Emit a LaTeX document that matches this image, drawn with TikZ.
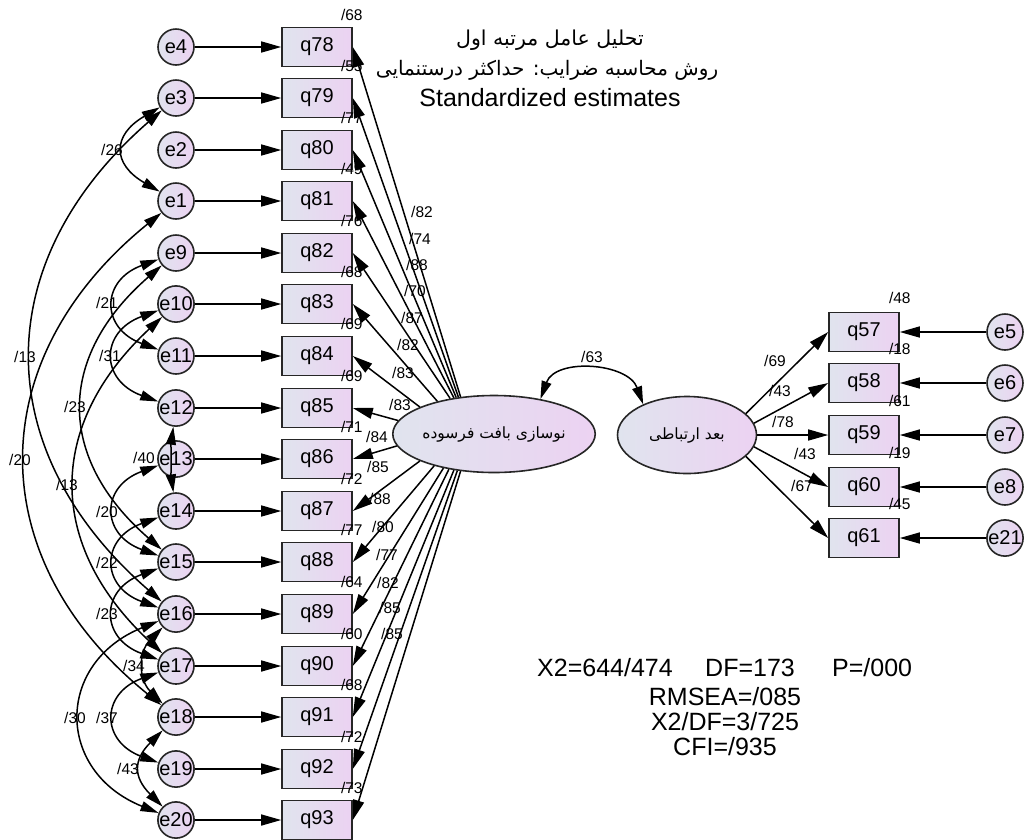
\documentclass[tikz,border=0pt]{standalone}
\usepackage{fontspec}
\setmainfont{Liberation Sans}
\newfontfamily\fa[Script=Arabic]{DejaVu Sans}
\TeXXeTstate=1
\usetikzlibrary{arrows.meta,shapes.geometric}
\definecolor{boxL}{RGB}{224,228,238}
\definecolor{boxR}{RGB}{236,210,242}
\begin{document}
\begin{tikzpicture}[x=1pt,y=1pt,
  box/.style={draw=black!85, line width=1.6pt, minimum width=70pt, minimum height=39pt, inner sep=0pt, left color=boxL, right color=boxR, font=\fontsize{20}{20}\selectfont},
  err/.style={circle, draw=black!85, line width=1.6pt, minimum size=36pt, inner sep=0pt, left color=boxL, right color=boxR, font=\fontsize{20}{20}\selectfont},
  lat/.style={ellipse, draw=black!85, line width=1.6pt, minimum width=139pt, minimum height=77pt, inner sep=0pt, left color=boxL, right color=boxR},
  pth/.style={line width=1.5pt, -{Triangle[length=20pt,width=11pt]}},
  cov/.style={line width=1.5pt, {Triangle[length=18pt,width=10pt]}-{Triangle[length=18pt,width=10pt]}},
  lbl/.style={font=\fontsize{15.5}{15.5}\selectfont, inner sep=0pt},
  big/.style={font=\fontsize{25}{25}\selectfont, inner sep=0pt},
]
\fill[white] (0,0) rectangle (1024,-839);
\useasboundingbox (0,0) rectangle (1024,-839);

% title
\node[big] (t1) at (550,-40) {\fa\fontsize{20.5}{20.5}\selectfont\beginR تحلیل عامل مرتبه اول\endR};
\node[big] (t2) at (547,-70) {\fa\fontsize{20}{20}\selectfont\beginR روش محاسبه ضرایب: حداکثر درستنمایی\endR};
\node[big] (t3) at (550,-98) {Standardized estimates};

% left indicators and errors
\foreach \e/\q/\y in {e4/q78/47,e3/q79/98,e2/q80/150,e1/q81/201,e9/q82/253,e10/q83/304,e11/q84/356,e12/q85/408,e13/q86/459,e14/q87/511,e15/q88/562,e16/q89/614,e17/q90/666,e18/q91/717,e19/q92/769,e20/q93/820}{
  \node[err] (\e) at (176,-\y) {\e};
  \node[box] (\q) at (317,-\y) {\q};
}
% right indicators and errors
\foreach \e/\q/\y in {e5/q57/332,e6/q58/383,e7/q59/435,e8/q60/487,e21/q61/538}{
  \node[err] (\e) at (1005,-\y) {\e};
  \node[box] (\q) at (864,-\y) {\q};
}
% latents
\node[lat] (L) at (494,-434) {\fa\fontsize{15.5}{15.5}\selectfont\beginR نوسازی بافت فرسوده\endR};
\node[lat] (R) at (687,-435) {\fa\fontsize{15.5}{15.5}\selectfont\beginR بعد ارتباطی\endR};

% R-square labels (left)
\foreach \q/\v in {q78/68,q79/55,q80/77,q81/49,q82/76,q83/68,q84/69,q85/69,q86/71,q87/72,q88/77,q89/64,q90/60,q91/68,q92/72,q93/73}{
  \node[lbl] (r\q) at ([shift={(-1,12)}]\q.north east) {/\v};
}
\foreach \q/\v in {q57/48,q58/18,q59/61,q60/19,q61/45}{
  \node[lbl] (r\q) at ([shift={(0,14)}]\q.north east) {/\v};
}

% loading labels (left)
\foreach \q/\v/\x/\y in {q78/82/422/212,q79/74/420/239,q80/88/417/265,q81/70/415/291,q82/87/412/318,q83/82/408/345,q84/83/403/373,q85/83/400/405,q86/84/377/437,q87/85/378/467,q88/88/380/499,q89/80/383/527,q90/77/387/555,q91/82/388/583,q92/85/390/608,q93/85/392/634}{
  \node[lbl] (l\q) at (\x,-\y) {/\v};
}
% loading labels (right)
\foreach \q/\v/\x/\y in {q57/69/775/361,q58/43/780/391,q59/78/783/422,q60/43/805/454,q61/67/802/486}{
  \node[lbl] (l\q) at (\x,-\y) {/\v};
}

% covariance labels
\foreach \v/\x/\y [count=\i] in {26/112/150,13/25/357,21/107/303,31/110/356,23/75/407,20/20/460,13/67/485,40/144/458,20/107/512,22/107/563,23/107/614,34/134/666,30/75/718,37/107/718,43/128/769,63/592/357}{
  \node[lbl] (c\i) at (\x,-\y) {/\v};
}

% fit statistics
\node[big, anchor=west] (s1) at (537,-668) {X2=644/474};
\node[big, anchor=west] (s2) at (705,-668) {DF=173};
\node[big, anchor=west] (s3) at (832,-668) {P=/000};
\node[big] (s4) at (725,-697) {RMSEA=/085};
\node[big] (s5) at (725,-722) {X2/DF=3/725};
\node[big] (s6) at (725,-747) {CFI=/935};

% error paths
\foreach \e/\q in {e4/q78,e3/q79,e2/q80,e1/q81,e9/q82,e10/q83,e11/q84,e12/q85,e13/q86,e14/q87,e15/q88,e16/q89,e17/q90,e18/q91,e19/q92,e20/q93,e5/q57,e6/q58,e7/q59,e8/q60,e21/q61}{
  \draw[pth] (\e) -- (\q);
}
% loadings
\foreach \q/\a in {q78/132,q79/134,q80/136,q81/138,q82/141,q83/150,q84/160,q85/172,q86/187,q87/200,q88/208,q89/214,q90/218,q91/222,q92/225,q93/228}{
  \draw[pth] (L.\a) -- (\q.east);
}
\foreach \q/\a in {q57/20,q58/10,q59/0,q60/-10,q61/-20}{
  \draw[pth] (R.\a) -- (\q.west);
}
% latent covariance
\draw[cov] (L.37) to[out=70,in=110,looseness=1.1] (R.145);

% error covariances
\draw[cov] (e3) to[out=210,in=150,looseness=1.68] (e1);
\foreach \a/\b in {e9/e11,e10/e12,e13/e15,e14/e16,e15/e17,e17/e19}{
  \draw[cov] (\a) to[out=200,in=160,looseness=1.75] (\b);
}
\draw[cov] (e16) to[out=225,in=135,looseness=1.16] (e18);
\draw[cov] (e18) to[out=225,in=135,looseness=1.4] (e20);
\draw[cov] (e12) to[out=262,in=98,looseness=0.64] (e14);
\draw[cov] (e16) to[out=202,in=158,looseness=1.49] (e20);
\draw[cov] (e3) to[out=221,in=139,looseness=1.2] (e16);
\draw[cov] (e1) to[out=219,in=141,looseness=1.21] (e18);
\draw[cov] (e9) to[out=221,in=139,looseness=1.26] (e15);
\draw[cov] (e10) to[out=223,in=137,looseness=1.21] (e17);
\end{tikzpicture}
\end{document}
